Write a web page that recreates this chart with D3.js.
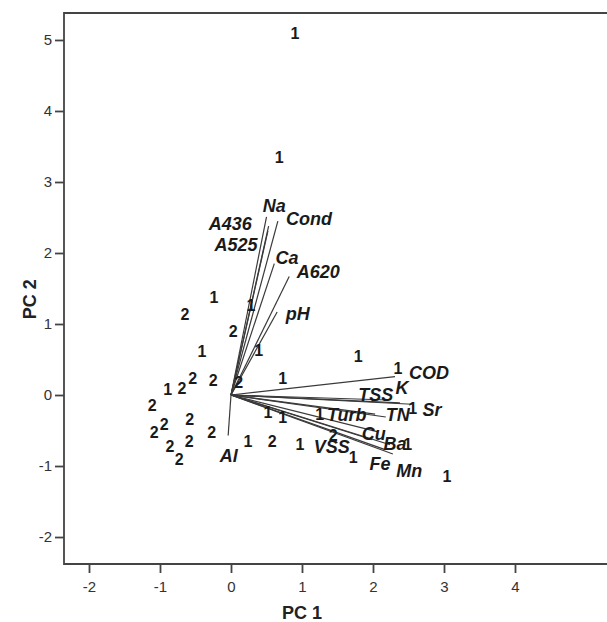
<!DOCTYPE html>
<html>
<head>
<meta charset="utf-8">
<script src="https://cdn.jsdelivr.net/npm/d3@7"></script>
<style>
  body { margin: 0; background: #fff; }
  svg text { font-family: "Liberation Sans", Arial, sans-serif; }
  .axis path, .axis line { stroke: #444; stroke-width: 1.8; }
  .axis text { font-size: 15px; fill: #333; }
</style>
</head>
<body>
<div id="chart"></div>
<script>
// object scores (PC1, PC2) and their group
var pointGroup = ["1","1","1","2","2","1","2","2","2","1","2","2","2","2","2","2","2","2","2",
                  "1","1","1","1","1","1","1","2","1","2","1","1","1","1","1","1"];
var pointX = [0.90, 0.68, -0.24, -0.65, 0.03, -0.41, -0.25, -0.54, -0.69, -0.89, 0.11, -1.11, -1.08, -0.94, -0.58, -0.27, -0.86, -0.59, -0.73,
              0.39, 0.73, 1.79, 0.52, 0.73, 1.25, 0.24, 0.58, 0.97, 1.44, 1.72, 2.35, 2.56, 2.49, 3.04, 0.28];
var pointY = [5.10, 3.35, 1.37, 1.14, 0.90, 0.62, 0.21, 0.23, 0.10, 0.08, 0.18, -0.15, -0.52, -0.41, -0.34, -0.52, -0.72, -0.65, -0.90,
              0.63, 0.23, 0.54, -0.24, -0.32, -0.27, -0.65, -0.65, -0.69, -0.56, -0.87, 0.37, -0.18, -0.69, -1.14, 1.27];

// variable loadings (vector ends) and where their names sit
var varNames = ["Na", "A436", "A525", "Cond", "Ca", "A620", "pH", "Al", "COD", "TSS", "K", "Sr", "Turb", "TN", "Cu", "Ba", "VSS", "Fe", "Mn"];
var varX = [0.50, 0.53, 0.52, 0.66, 0.61, 0.82, 0.65, -0.04, 2.31, 2.21, 2.38, 2.55, 2.03, 2.18, 2.07, 2.24, 1.99, 2.17, 2.28];
var varY = [2.51, 2.38, 2.31, 2.45, 1.85, 1.67, 1.17, -0.57, 0.26, -0.07, -0.11, -0.13, -0.27, -0.31, -0.52, -0.70, -0.63, -0.77, -0.83];
var labelX = [0.61, -0.01, 0.07, 1.10, 0.79, 1.23, 0.94, -0.03, 2.79, 2.04, 2.41, 2.83, 1.63, 2.35, 2.01, 2.31, 1.42, 2.10, 2.51];
var labelY = [2.66, 2.41, 2.11, 2.49, 1.94, 1.73, 1.15, -0.85, 0.32, 0.01, 0.10, -0.21, -0.28, -0.28, -0.54, -0.68, -0.73, -0.97, -1.06];

var xTicks = [-2, -1, 0, 1, 2, 3, 4];
var yTicks = [-2, -1, 0, 1, 2, 3, 4, 5];

var width = 607, height = 622;

var svg = d3.select("#chart").append("svg")
    .attr("width", width)
    .attr("height", height);

var x = d3.scaleLinear().domain([-2.352, 5.5]).range([64, 621.5]),
    y = d3.scaleLinear().domain([-2.38, 5.38]).range([564, 13]);

// frame (right side runs off the picture)
svg.append("path")
    .attr("d", "M" + 640 + "," + y(5.38) + "H" + x(-2.352) + "V" + y(-2.38) + "H" + 640)
    .attr("fill", "none")
    .attr("stroke", "#444")
    .attr("stroke-width", 1.8);

var fmt = function(d) { return String(d); };

svg.append("g")
    .attr("class", "axis")
    .attr("transform", "translate(" + x(-2.352) + ",0)")
    .call(d3.axisLeft(y).tickValues(yTicks).tickFormat(fmt).tickSize(9).tickPadding(3).tickSizeOuter(0))
    .call(function(g) { g.select(".domain").remove(); });

svg.append("g")
    .attr("class", "axis")
    .attr("transform", "translate(0," + y(-2.38) + ")")
    .call(d3.axisBottom(x).tickValues(xTicks).tickFormat(fmt).tickSize(9).tickPadding(8).tickSizeOuter(0))
    .call(function(g) { g.select(".domain").remove(); });

svg.append("text")
    .attr("x", x(1))
    .attr("y", 619)
    .attr("text-anchor", "middle")
    .attr("font-size", 18)
    .attr("font-weight", "bold")
    .attr("fill", "#222")
    .text("PC 1");

svg.append("text")
    .attr("transform", "translate(36," + y(1.35) + ") rotate(-90)")
    .attr("text-anchor", "middle")
    .attr("font-size", 18)
    .attr("font-weight", "bold")
    .attr("fill", "#222")
    .text("PC 2");

// loading vectors
svg.selectAll("line.vec")
    .data(varNames)
  .enter().append("line")
    .attr("class", "vec")
    .attr("x1", x(0))
    .attr("y1", y(0))
    .attr("x2", function(d, i) { return x(varX[i]); })
    .attr("y2", function(d, i) { return y(varY[i]); })
    .attr("stroke", "#3a3a3a")
    .attr("stroke-width", 1.2);

svg.selectAll("text.var")
    .data(varNames)
  .enter().append("text")
    .attr("class", "var")
    .attr("x", function(d, i) { return x(labelX[i]); })
    .attr("y", function(d, i) { return y(labelY[i]); })
    .attr("dy", "0.35em")
    .attr("text-anchor", "middle")
    .attr("font-size", 18)
    .attr("font-weight", "bold")
    .attr("font-style", "italic")
    .attr("fill", "#1a1a1a")
    .text(function(d) { return d; });

// object scores drawn as group numbers
svg.selectAll("text.pt")
    .data(pointGroup)
  .enter().append("text")
    .attr("class", "pt")
    .attr("x", function(d, i) { return x(pointX[i]); })
    .attr("y", function(d, i) { return y(pointY[i]); })
    .attr("dy", "0.36em")
    .attr("text-anchor", "middle")
    .attr("font-size", 16)
    .attr("font-weight", "bold")
    .attr("fill", "#1a1a1a")
    .text(function(d) { return d; });
</script>
</body>
</html>
